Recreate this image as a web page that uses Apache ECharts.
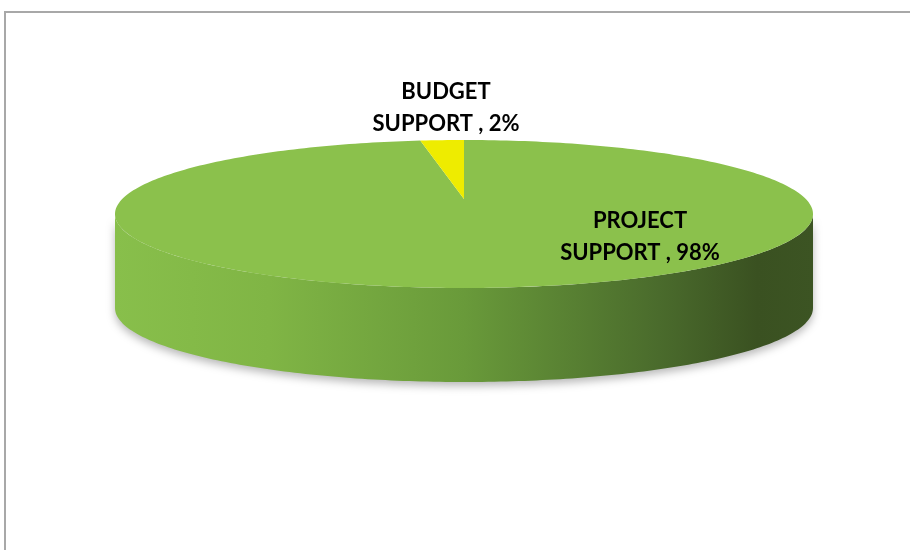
<!DOCTYPE html>
<html>
<head>
<meta charset="utf-8">
<script src="https://cdn.jsdelivr.net/npm/echarts@6/dist/echarts.min.js"></script>
<style>
  html, body { margin: 0; padding: 0; background: #fff; }
  #chart { width: 910px; height: 550px; }
</style>
</head>
<body>
<div id="chart"></div>
<script>
// Aid modality split
const categories = ['PROJECT\nSUPPORT', 'BUDGET\nSUPPORT'];
const shares = [98, 2];
const sliceColors = ['#8bc14c', '#eeec00'];

// Disc geometry (pixels) and label anchors
const disc = { cx: 464, cy: 214, rx: 349, ry: 74, depth: 94, apexLift: 15 };
const labelAnchors = [[640, 237], [446, 108]];

const total = shares.reduce((a, b) => a + b, 0);
const starts = [];
let acc = 0;
shares.forEach(v => { starts.push(acc); acc += v; });

function rimPoint(deg, dy) {
  const t = deg * Math.PI / 180;
  return [disc.cx + disc.rx * Math.sin(t), disc.cy - disc.ry * Math.cos(t) + (dy || 0)];
}
function arcPoints(a0, a1, dy) {
  const pts = [];
  const n = Math.max(2, Math.ceil(Math.abs(a1 - a0) / 1));
  for (let i = 0; i <= n; i++) pts.push(rimPoint(a0 + (a1 - a0) * i / n, dy));
  return pts;
}

const sideGradient = new echarts.graphic.LinearGradient(disc.cx - disc.rx, 0, disc.cx + disc.rx, 0, [
  { offset: 0, color: '#88bf4b' },
  { offset: 0.22, color: '#80b545' },
  { offset: 0.5, color: '#699a3a' },
  { offset: 0.78, color: '#4a6b2c' },
  { offset: 0.92, color: '#3a5121' },
  { offset: 1, color: '#3c5423' }
], true);

function renderSlice(params, api) {
  const i = params.dataIndex;
  const a0 = starts[i] / total * 360;
  const a1 = (starts[i] + shares[i]) / total * 360;
  const apex = [disc.cx, disc.cy - disc.apexLift];
  const children = [];

  // front wall: the part of the slice between 90° and 270°
  const f0 = Math.max(a0, 90), f1 = Math.min(a1, 270);
  if (f1 > f0) {
    const top = arcPoints(f0, f1, 0);
    const bottom = arcPoints(f1, f0, disc.depth);
    children.push({
      type: 'polygon', z2: 1,
      shape: { points: top.concat(bottom) },
      style: { fill: sideGradient, shadowBlur: 8, shadowOffsetY: 4, shadowColor: 'rgba(0,0,0,0.28)' }
    });
  }

  // top face
  children.push({
    type: 'polygon', z2: 10,
    shape: { points: [apex].concat(arcPoints(a0, a1, 0)) },
    style: { fill: sliceColors[i] }
  });

  // data label
  children.push({
    type: 'text', z2: 20,
    style: {
      text: categories[i] + ' , ' + shares[i] + '%',
      x: labelAnchors[i][0], y: labelAnchors[i][1],
      fill: '#000', font: 'bold 22px Lato', lineHeight: 32,
      align: 'center', verticalAlign: 'middle'
    }
  });
  return { type: 'group', children };
}

const chart = echarts.init(document.getElementById('chart'), null, { renderer: 'canvas' });
chart.setOption({
  animation: false,
  backgroundColor: '#fff',
  graphic: [{
    type: 'rect', z: -1,
    shape: { x: 5, y: 12, width: 1000, height: 700 },
    style: { fill: 'none', stroke: '#a8a8a8', lineWidth: 2 }
  }],
  series: [{
    type: 'custom',
    coordinateSystem: 'none',
    renderItem: renderSlice,
    data: shares.map((v, i) => ({ name: categories[i], value: v }))
  }]
});
</script>
</body>
</html>
